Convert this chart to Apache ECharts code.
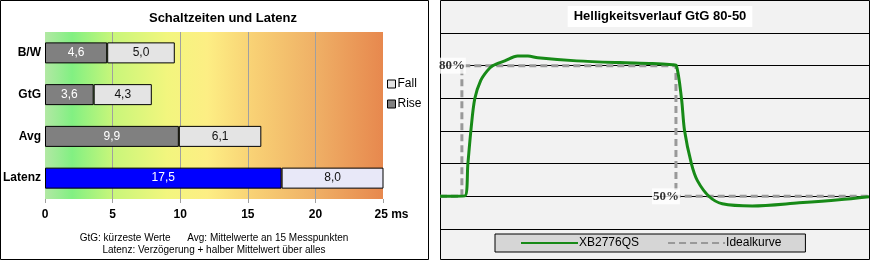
<!DOCTYPE html>
<html>
<head>
<meta charset="utf-8">
<script src="https://cdn.jsdelivr.net/npm/echarts@6/dist/echarts.min.js"></script>
<style>
html,body{margin:0;padding:0;background:#fff;}
#c{width:871px;height:262px;}
</style>
</head>
<body>
<div id="c"></div>
<script>
// ---- Left chart data ----
const categories = ['B/W', 'GtG', 'Avg', 'Latenz'];
const riseValues = [4.6, 3.6, 9.9, 17.5];
const fallValues = [5.0, 4.3, 6.1, 8.0];
const leftTitle = 'Schaltzeiten und Latenz';
const footnote1 = 'GtG: kürzeste Werte      Avg: Mittelwerte an 15 Messpunkten';
const footnote2 = 'Latenz: Verzögerung + halber Mittelwert über alles';

// ---- Right chart data ----
const rightTitle = 'Helligkeitsverlauf GtG 80-50';
const measuredT = [0, 5.8, 6.5, 7.2, 8.1, 9.5, 11.0, 12.3, 15.1, 18.1, 20.5, 22.8, 31.9, 41.9, 49.5, 54.2, 55.1, 56.3, 57.0, 58.6, 60.0, 62.8, 65.8, 72.8, 83.7, 93.0, 100];
const measuredV = [50, 50.1, 57.5, 65.1, 72.4, 76.6, 78.8, 80.0, 81.1, 82.2, 82.2, 81.8, 81.1, 80.7, 80.5, 80.2, 80.0, 72.4, 65.1, 57.5, 53.6, 49.9, 48.3, 47.8, 48.5, 49.2, 49.9];
const idealT = [0, 5.1, 5.1, 55, 55, 100];
const idealV = [50, 50, 80, 80, 50, 50];
const idealLabels = ['', '', '80%', '', '50%', ''];

const FONT = 'Liberation Sans';
const fmt = v => Number(v).toFixed(1).replace('.', ',');

const chart = echarts.init(document.getElementById('c'), null, {renderer: 'canvas'});

const gradient = new echarts.graphic.LinearGradient(0, 0, 1, 0, [
  {offset: 0.0, color: '#b2e8a4'},
  {offset: 0.08, color: '#82f082'},
  {offset: 0.2, color: '#c8f67a'},
  {offset: 0.36, color: '#f2f67e'},
  {offset: 0.48, color: '#fdee84'},
  {offset: 0.62, color: '#f8d074'},
  {offset: 0.8, color: '#efb066'},
  {offset: 1.0, color: '#e7884e'}
]);

const labelPoints = [];
idealT.forEach((t, i) => {
  if (idealLabels[i]) labelPoints.push({value: [t, idealV[i]], text: idealLabels[i]});
});

const option = {
  animation: false,
  textStyle: {fontFamily: FONT},
  graphic: [
    {type: 'rect', z: -10, shape: {x: 0.5, y: 0.5, width: 428, height: 259}, style: {fill: '#fff', stroke: '#000', lineWidth: 1}},
    {type: 'rect', z: -10, shape: {x: 440.5, y: 0.5, width: 429, height: 259}, style: {fill: '#f2f2f2', stroke: '#000', lineWidth: 1}},
    {type: 'text', z: 10, style: {x: 214, y: 233, text: footnote1, font: '10px ' + FONT, fill: '#000', textAlign: 'center'}},
    {type: 'text', z: 10, style: {x: 214, y: 245, text: footnote2, font: '10px ' + FONT, fill: '#000', textAlign: 'center'}}
  ],
  title: [
    {text: leftTitle, left: 218, textAlign: 'center', top: 7,
     textStyle: {fontFamily: FONT, fontSize: 13, fontWeight: 'bold', color: '#000'}},
    {text: rightTitle, left: 654, textAlign: 'center', top: 6, backgroundColor: '#fff', padding: [4, 6, 4, 6],
     textStyle: {fontFamily: FONT, fontSize: 13, fontWeight: 'bold', color: '#000'}}
  ],
  legend: [
    {
      data: [
        {name: 'Fall', itemStyle: {color: '#e4e4e4', borderColor: '#000', borderWidth: 1}},
        {name: 'Rise', itemStyle: {color: '#808080', borderColor: '#000', borderWidth: 1}}
      ],
      orient: 'vertical', left: 387, top: 78,
      itemWidth: 8, itemHeight: 8, itemGap: 8, icon: 'rect',
      textStyle: {fontFamily: FONT, fontSize: 12, color: '#000', padding: [0, 0, 0, -3]},
      padding: 0
    },
    {
      data: ['XB2776QS', 'Idealkurve'], left: 495, top: 234,
      itemWidth: 57, itemHeight: 12, itemGap: 28,
      backgroundColor: '#d6d6d6', borderColor: '#000', borderWidth: 1,
      padding: [3, 24, 3, 25],
      itemStyle: {opacity: 0},
      textStyle: {fontFamily: FONT, fontSize: 12, color: '#000', padding: [0, 0, 0, -4]}
    }
  ],
  grid: [
    {left: 45, right: 488, top: 32, bottom: 63, show: true, backgroundColor: gradient, borderWidth: 0},
    {left: 440, right: 2, top: 33, bottom: 33, show: false}
  ],
  xAxis: [
    {
      gridIndex: 0, type: 'value', min: 0, max: 25, interval: 5,
      axisLine: {show: false},
      axisTick: {show: true, length: 4, lineStyle: {color: '#a0a0a0'}},
      splitLine: {show: true, showMinLine: false, showMaxLine: false, lineStyle: {color: '#a0a0a0', width: 1}},
      axisLabel: {
        margin: 10, fontFamily: FONT, fontSize: 12, fontWeight: 'bold', color: '#000',
        formatter: v => v === 25 ? '{p| }25 ms' : String(v),
        rich: {p: {width: 17}}
      }
    },
    {gridIndex: 1, type: 'value', min: 0, max: 100, show: false}
  ],
  yAxis: [
    {
      gridIndex: 0, type: 'category', data: categories, inverse: true,
      axisLine: {show: false}, axisTick: {show: false},
      axisLabel: {margin: 4, fontFamily: FONT, fontSize: 12, fontWeight: 'bold', color: '#000'}
    },
    {
      gridIndex: 1, type: 'value', min: 42.5, max: 87.5, interval: 7.5,
      axisLine: {show: false}, axisTick: {show: false}, axisLabel: {show: false},
      splitLine: {show: true, lineStyle: {color: '#000', width: 1}}
    }
  ],
  series: [
    {
      name: 'Rise', type: 'bar', stack: 'a', xAxisIndex: 0, yAxisIndex: 0,
      data: riseValues, barWidth: 21,
      itemStyle: {
        color: p => p.name === 'Latenz' ? '#0000ff' : '#808080',
        borderColor: '#000', borderWidth: 1
      },
      label: {show: true, position: 'inside', color: '#fff', fontFamily: FONT, fontSize: 12,
               formatter: p => fmt(p.value)}
    },
    {
      name: 'Fall', type: 'bar', stack: 'a', xAxisIndex: 0, yAxisIndex: 0,
      data: fallValues, barWidth: 21,
      itemStyle: {
        color: p => p.name === 'Latenz' ? '#e8e8f8' : '#e4e4e4',
        borderColor: '#000', borderWidth: 1
      },
      label: {show: true, position: 'inside', color: '#111', fontFamily: FONT, fontSize: 12,
               formatter: p => fmt(p.value)}
    },
    {
      name: 'Idealkurve', type: 'line', xAxisIndex: 1, yAxisIndex: 1,
      data: idealT.map((t, i) => [t, idealV[i]]), symbol: 'none', z: 3,
      lineStyle: {color: '#999999', width: 3, type: [7, 4]},
      itemStyle: {color: '#999999'}
    },
    {
      name: 'XB2776QS', type: 'line', xAxisIndex: 1, yAxisIndex: 1,
      data: measuredT.map((t, i) => [t, measuredV[i]]), symbol: 'none', z: 4,
      smooth: 0.3,
      lineStyle: {color: '#178a17', width: 3},
      itemStyle: {color: '#178a17'}
    },
    {
      name: 'idealMarks', type: 'scatter', xAxisIndex: 1, yAxisIndex: 1,
      data: labelPoints, symbolSize: 0, z: 6, silent: true,
      label: {show: true, position: 'left', distance: -4, color: '#000', backgroundColor: '#fff',
              fontFamily: 'Liberation Serif', fontSize: 13, fontWeight: 'bold', padding: [2, 1, 1, 1],
              formatter: p => p.data.text}
    }
  ]
};
chart.setOption(option);
</script>
</body>
</html>
